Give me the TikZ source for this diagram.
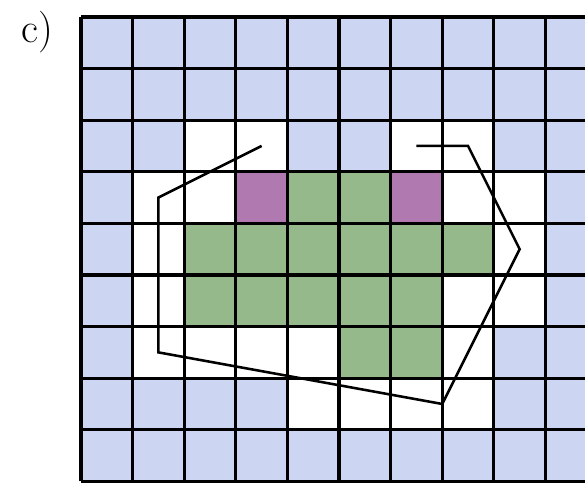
\documentclass[tikz,border=0pt]{standalone}
\usepackage{tikz}
\definecolor{cellblue}{RGB}{204,213,242}
\definecolor{cellgreen}{RGB}{150,185,140}
\definecolor{cellpurple}{RGB}{176,122,176}

\begin{document}
\begin{tikzpicture}[
        gridline/.style={line width=1.7pt, black},
        outline/.style={line width=1.4pt, black, line join=miter},
        label/.style={font=\fontsize{23}{27}\selectfont, anchor=base west, inner sep=0pt}
    ]
    \useasboundingbox (-1.57,-0.012) rectangle (9.767,9.329);

    % cells: blue background, then white, green and purple
    \fill[cellblue] (0,0) rectangle (10,9);
    \foreach \c/\r in {2/2,3/2,6/2,7/2, 1/3,2/3,7/3,8/3, 1/4,8/4, 1/5,7/5,8/5,
                       1/6,2/6,3/6,4/6,7/6, 4/7,5/7,6/7,7/7}
        \fill[white] (\c,8-\r) rectangle ++(1,1);
    \foreach \c/\r in {4/3,5/3, 2/4,3/4,4/4,5/4,6/4,7/4, 2/5,3/5,4/5,5/5,6/5, 5/6,6/6}
        \fill[cellgreen] (\c,8-\r) rectangle ++(1,1);
    \foreach \c/\r in {3/3,6/3}
        \fill[cellpurple] (\c,8-\r) rectangle ++(1,1);

    \draw[gridline] (0,0) grid (10,9);

    \node[label] (lab) at (-1.16,8.5) {c)};

    % open outline
    \coordinate (p1) at (6.5,6.5);
    \coordinate (p2) at (7.5,6.5);
    \coordinate (p3) at (8.5,4.5);
    \coordinate (p4) at (7,1.5);
    \coordinate (p5) at (1.5,2.5);
    \coordinate (p6) at (1.5,5.5);
    \coordinate (p7) at (3.5,6.5);
    \draw[outline] (p1) -- (p2) -- (p3) -- (p4) -- (p5) -- (p6) -- (p7);
\end{tikzpicture}
\end{document}
